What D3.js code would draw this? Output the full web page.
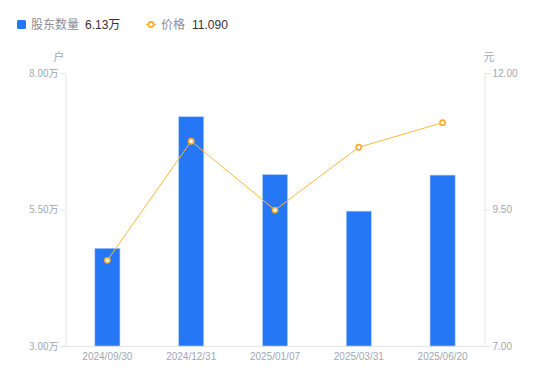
<!DOCTYPE html>
<html><head><meta charset="utf-8">
<script src="https://cdn.jsdelivr.net/npm/d3@7/dist/d3.min.js"></script>
<style>body{margin:0;background:#fff;}svg{display:block;font-family:"Noto Sans CJK SC","Liberation Sans",sans-serif;}</style>
</head><body><svg id="c" width="550" height="381"></svg>
<script>
const categories = ["2024/09/30","2024/12/31","2025/01/07","2025/03/31","2025/06/20"];
const holders = [4.79, 7.20, 6.14, 5.47, 6.13];
const prices = [8.57, 10.75, 9.49, 10.64, 11.09];
const leftTicks = [3.00, 5.50, 8.00];
const rightTicks = [7.00, 9.50, 12.00];

const svg = d3.select("#c");
const m = {l:65.5, r:484.5, t:73, b:346};
const x = d3.scaleBand().domain(categories).range([m.l, m.r]);
const yL = d3.scaleLinear().domain([3, 8]).range([m.b, m.t]);
const yR = d3.scaleLinear().domain([7, 12]).range([m.b, m.t]);
const grey = "#a3a6b4", lineC = "#e4e4e4";

// axes
const gl = svg.append("g").attr("transform", `translate(${m.l},0)`)
  .call(d3.axisLeft(yL).tickValues(leftTicks).tickSize(5).tickFormat(d => d.toFixed(2) + "万"));
const gr = svg.append("g").attr("transform", `translate(${m.r},0)`)
  .call(d3.axisRight(yR).tickValues(rightTicks).tickSize(5).tickFormat(d => d.toFixed(2)));
const gb = svg.append("g").attr("transform", `translate(0,${m.b})`)
  .call(d3.axisBottom(x).tickSize(0).tickPadding(7));
[gl, gr, gb].forEach(g => {
  g.selectAll(".domain").attr("stroke", lineC);
  g.selectAll(".tick line").attr("stroke", lineC);
  g.selectAll("text").attr("fill", grey).style("font-size", "10px").style("font-family", "'Liberation Sans',sans-serif");
});
gl.selectAll("text").style("font-family", "'Noto Sans CJK SC',sans-serif").attr("x", -7);
gr.selectAll("text").attr("x", 8);
gb.select(".domain").attr("d", `M${m.l},0.5H${m.r}`);

// unit labels
svg.append("text").attr("x", 59).attr("y", 61).attr("text-anchor", "middle").attr("fill", grey)
  .style("font-size", "11px").text("户");
svg.append("text").attr("x", 489).attr("y", 61).attr("text-anchor", "middle").attr("fill", grey)
  .style("font-size", "11px").text("元");

// bars
const bw = x.bandwidth() * 0.3;
svg.append("g").selectAll("rect").data(holders).join("rect")
  .attr("x", (d, i) => x(categories[i]) + x.bandwidth() / 2 - bw / 2)
  .attr("y", d => yL(d))
  .attr("width", bw)
  .attr("height", d => m.b - yL(d))
  .attr("fill", "#2677f5")
  .attr("stroke", "#b9d2fb").attr("stroke-width", 0.6);

// line
const cx = (d, i) => x(categories[i]) + x.bandwidth() / 2;
svg.append("path").datum(prices)
  .attr("d", d3.line().x(cx).y(d => yR(d)))
  .attr("fill", "none").attr("stroke", "#fbb83a").attr("stroke-width", 1);
svg.append("g").selectAll("circle").data(prices).join("circle")
  .attr("cx", cx).attr("cy", d => yR(d)).attr("r", 2.6)
  .attr("fill", "#fff").attr("stroke", "#fbaa28").attr("stroke-width", 1.6);

// legend
const lg = svg.append("g").style("font-size", "12px");
lg.append("rect").attr("x", 17).attr("y", 20).attr("width", 9).attr("height", 9).attr("rx", 1.5).attr("fill", "#2677f5");
lg.append("text").attr("x", 31).attr("y", 29).attr("fill", "#8a8d99").text("股东数量");
lg.append("text").attr("x", 85).attr("y", 29).attr("fill", "#333").style("font-family", "'Liberation Sans',sans-serif")
  .text(holders[holders.length - 1].toFixed(2)).append("tspan").style("font-family", "'Noto Sans CJK SC',sans-serif").text("万");
lg.append("line").attr("x1", 146).attr("x2", 156).attr("y1", 24.5).attr("y2", 24.5).attr("stroke", "#fbb83a").attr("stroke-width", 1.5);
lg.append("circle").attr("cx", 151).attr("cy", 24.5).attr("r", 2.6).attr("fill", "#fff").attr("stroke", "#fbaa28").attr("stroke-width", 1.6);
lg.append("text").attr("x", 161).attr("y", 29).attr("fill", "#8a8d99").text("价格");
lg.append("text").attr("x", 192).attr("y", 29).attr("fill", "#333").style("font-family", "'Liberation Sans',sans-serif")
  .text(prices[prices.length - 1].toFixed(3));
</script></body></html>
